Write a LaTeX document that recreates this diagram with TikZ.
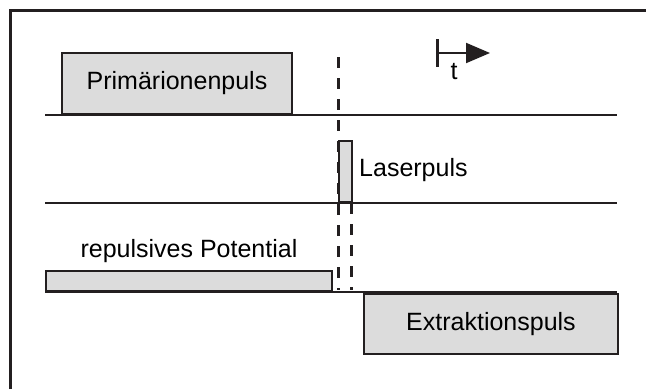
\documentclass[tikz,border=0pt]{standalone}
\usepackage{fontspec}
\setmainfont{Liberation Sans}
\usetikzlibrary{arrows.meta}
\definecolor{pulsegray}{HTML}{DCDCDC}
\definecolor{inkline}{HTML}{231F20}
\tikzset{
  pulsebox/.style={draw=inkline, fill=pulsegray, line width=2pt, inner sep=0pt, anchor=south west},
  baseline rule/.style={draw=inkline, line width=2pt},
  trigger/.style={draw=inkline, line width=3pt, dash pattern=on 11pt off 10pt},
  label text/.style={font=\fontsize{25}{30}\selectfont, text=black, inner sep=0pt}
}
\begin{document}
\begin{tikzpicture}[x=1pt, y=-1pt]
  \useasboundingbox (0,0) rectangle (646,389);
  % outer frame (open to the right and bottom)
  \draw[draw=inkline, line width=3pt] (10,389) -- (10,10) -- (646,10);

  % channel baselines
  \coordinate (l1a) at (45,115);  \coordinate (l1b) at (617,115);
  \coordinate (l2a) at (45,203);  \coordinate (l2b) at (617,203);
  \coordinate (l3a) at (45,292);  \coordinate (l3b) at (617,292);

  % pulses
  \node[pulsebox, minimum width=230pt, minimum height=61pt] (prim) at (61,115) {};
  \node[pulsebox, minimum width=13pt, minimum height=61pt] (laser) at (338,203) {};
  \node[pulsebox, minimum width=286pt, minimum height=20pt] (repuls) at (45,292) {};
  \node[pulsebox, minimum width=254pt, minimum height=60pt, anchor=north west] (extr) at (363,293) {};

  \draw[baseline rule] (l1a) -- (l1b);
  \draw[baseline rule] (l2a) -- (l2b);
  \draw[baseline rule] (l3a) -- (l3b);

  % trigger markers
  \coordinate (d1a) at (338,57);  \coordinate (d1b) at (338,290);
  \coordinate (d2a) at (351,203); \coordinate (d2b) at (351,290);
  \draw[trigger] (d1a) -- (d1b);
  \draw[trigger] (d2a) -- (d2b);

  % labels
  \node[label text] (primtxt) at (prim.center) {Primärionenpuls};
  \node[label text, anchor=west] (lasertxt) at (359,170) {Laserpuls};
  \node[label text] (repulstxt) at (189,251) {repulsives Potential};
  \node[label text] (extrtxt) at (extr.center) {Extraktionspuls};

  % time arrow
  \coordinate (tbar1) at (437,39);
  \coordinate (tbar2) at (437,67);
  \coordinate (tstart) at (437,53);
  \coordinate (tend) at (490,53);
  \draw[draw=inkline, line width=3pt] (tbar1) -- (tbar2);
  \draw[draw=inkline, line width=2pt, -{Triangle[length=24pt, width=20pt]}] (tstart) -- (tend);
  \node[label text] (ttxt) at (454,72) {t};
\end{tikzpicture}
\end{document}
